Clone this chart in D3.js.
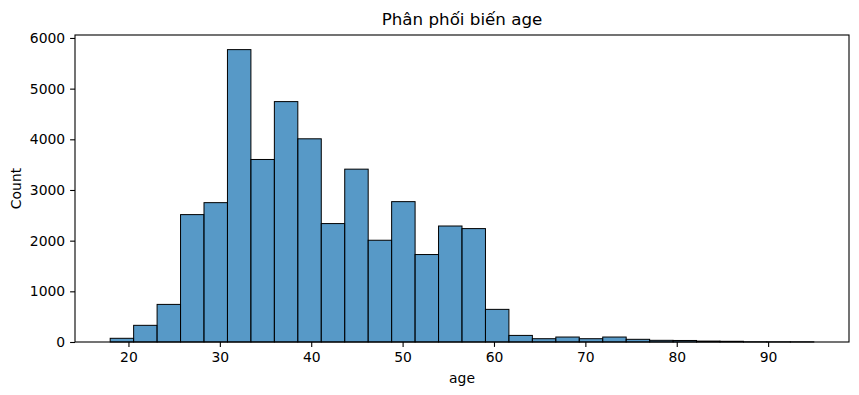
<html>
  <head>
	<title>Phân phối biến age</title>
	<script src="https://cdn.jsdelivr.net/npm/d3@7/dist/d3.min.js" type="text/javascript" charset="utf-8"></script>
	<style>
	  body { margin: 0; background: #fff; }
	  text { font-family: "DejaVu Sans", sans-serif; fill: #000; }
	</style>
  </head>
  <body>
	<svg></svg>
  </body>
  <script type="text/javascript">
	// histogram of age, 30 bins from 18 to 95
	var ageMin = 18, ageMax = 95;
	var counts = [73, 329, 742, 2514, 2750, 5770, 3602, 4744, 4010, 2337,
				  3411, 2008, 2770, 1726, 2289, 2238, 644, 130, 65, 98,
				  65, 98, 53, 33, 30, 18, 14, 4, 3, 3];
	var xTicks = [20, 30, 40, 50, 60, 70, 80, 90];
	var yTicks = [0, 1000, 2000, 3000, 4000, 5000, 6000];

	(function() {
	  var W = 859, H = 395,
		  left = 75, right = 849, top = 35, bottom = 342;
	  var svg = d3.select('svg').attr('width', W).attr('height', H);

	  var binW = (ageMax - ageMin) / counts.length;
	  var bins = counts.map(function(c, i) {
		return {x0: ageMin + i * binW, x1: ageMin + (i + 1) * binW, n: c};
	  });
	  var pad = (ageMax - ageMin) * 0.05;
	  var x = d3.scaleLinear().domain([ageMin - pad, ageMax + pad]).range([left, right]);
	  var y = d3.scaleLinear().domain([0, d3.max(counts) * 1.05]).range([bottom, top]);

	  svg.selectAll('.bar')
		 .data(bins)
		 .enter()
		 .append('rect')
		 .attr('class', 'bar')
		 .attr('x', function(d) { return x(d.x0); })
		 .attr('y', function(d) { return y(d.n); })
		 .attr('width', function(d) { return x(d.x1) - x(d.x0); })
		 .attr('height', function(d) { return y(0) - y(d.n); })
		 .attr('fill', 'rgba(31,119,180,0.75)')
		 .attr('stroke', '#000')
		 .attr('stroke-width', 1);

	  var xAxis = svg.append('g')
		 .attr('transform', 'translate(0,' + bottom + ')')
		 .call(d3.axisBottom(x).tickValues(xTicks).tickSize(4.9).tickPadding(4.9).tickFormat(d3.format('d')));
	  var yAxis = svg.append('g')
		 .attr('transform', 'translate(' + left + ',0)')
		 .call(d3.axisLeft(y).tickValues(yTicks).tickSize(4.9).tickPadding(4.9).tickFormat(d3.format('d')));
	  [xAxis, yAxis].forEach(function(a) {
		a.select('.domain').remove();
		a.selectAll('line').attr('stroke', '#000').attr('stroke-width', 1.1);
		a.selectAll('text').attr('font-size', 13.9).attr('font-family', 'DejaVu Sans');
	  });

	  svg.append('rect')
		 .attr('x', left).attr('y', top)
		 .attr('width', right - left).attr('height', bottom - top)
		 .attr('fill', 'none')
		 .attr('stroke', '#000')
		 .attr('stroke-width', 1.1);

	  svg.append('text')
		 .attr('x', (left + right) / 2).attr('y', 25)
		 .attr('text-anchor', 'middle')
		 .attr('font-size', 16.7)
		 .text('Phân phối biến age');
	  svg.append('text')
		 .attr('x', (left + right) / 2).attr('y', 383)
		 .attr('text-anchor', 'middle')
		 .attr('font-size', 13.9)
		 .text('age');
	  svg.append('text')
		 .attr('transform', 'translate(21,' + (top + bottom) / 2 + ') rotate(-90)')
		 .attr('text-anchor', 'middle')
		 .attr('font-size', 13.9)
		 .text('Count');
	})();
  </script>
</html>
